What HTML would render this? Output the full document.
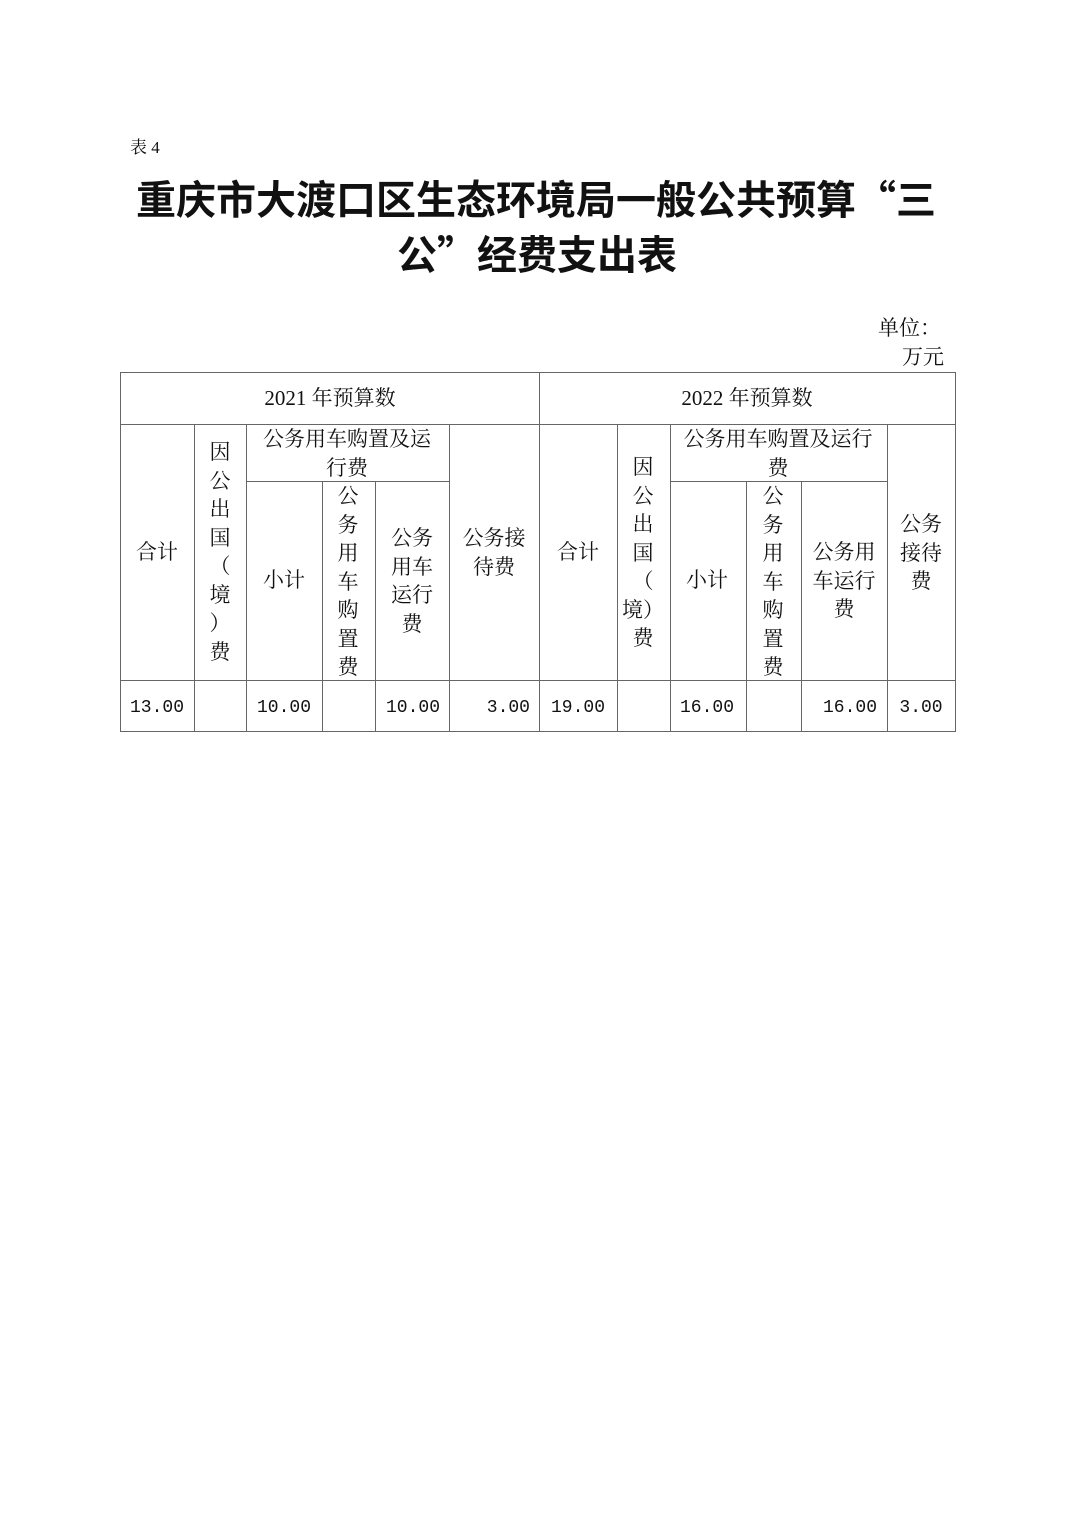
<!DOCTYPE html>
<html><head><meta charset="utf-8"><style>
body{margin:0;background:#fff;}
#p{position:relative;width:1074px;height:1520px;background:#fff;overflow:hidden;font-family:"Liberation Serif","Noto Serif CJK SC",serif;color:#111;}
.h{position:absolute;height:1px;background:#666;}
.v{position:absolute;width:1px;background:#666;}
.t{position:absolute;text-align:center;font-size:21px;line-height:28.5px;white-space:nowrap;}
.n{font-family:"Liberation Mono",monospace;font-size:18px;}
.title{position:absolute;left:0;width:1074px;text-align:center;font-family:"Noto Sans CJK SC",sans-serif;font-weight:bold;font-size:40px;line-height:56px;}
</style></head><body><div id="p">
<div class="t" style="left:130px;top:134px;text-align:left;font-size:17px;">表 4</div>
<div class="title" style="top:169px;left:-1px;">重庆市大渡口区生态环境局一般公共预算“三</div>
<div class="title" style="top:224px;">公”经费支出表</div>
<div class="t" style="left:878px;top:314px;text-align:left;">单位：</div>
<div class="t" style="left:902px;top:343px;text-align:left;">万元</div>

<div class="h" style="left:120px;top:372px;width:836px;"></div>
<div class="h" style="left:120px;top:424px;width:836px;"></div>
<div class="h" style="left:246px;top:481px;width:203px;"></div>
<div class="h" style="left:670px;top:481px;width:217px;"></div>
<div class="h" style="left:120px;top:680px;width:836px;"></div>
<div class="h" style="left:120px;top:731px;width:836px;"></div>
<div class="v" style="left:120px;top:372px;height:360px;"></div>
<div class="v" style="left:539px;top:372px;height:360px;"></div>
<div class="v" style="left:955px;top:372px;height:360px;"></div>
<div class="v" style="left:194px;top:424px;height:308px;"></div>
<div class="v" style="left:246px;top:424px;height:308px;"></div>
<div class="v" style="left:322px;top:481px;height:251px;"></div>
<div class="v" style="left:375px;top:481px;height:251px;"></div>
<div class="v" style="left:449px;top:424px;height:308px;"></div>
<div class="v" style="left:617px;top:424px;height:308px;"></div>
<div class="v" style="left:670px;top:424px;height:308px;"></div>
<div class="v" style="left:746px;top:481px;height:251px;"></div>
<div class="v" style="left:801px;top:481px;height:251px;"></div>
<div class="v" style="left:887px;top:424px;height:308px;"></div>

<div class="t" style="left:230px;width:200px;top:384px;">2021 年预算数</div>
<div class="t" style="left:57px;width:200px;top:538px;">合计</div>
<div class="t" style="left:120px;width:200px;top:438px;">因<br>公<br>出<br>国<br>（<br>境<br>）<br>费</div>
<div class="t" style="left:247px;width:200px;top:425px;">公务用车购置及运<br>行费</div>
<div class="t" style="left:184px;width:200px;top:566px;">小计</div>
<div class="t" style="left:248px;width:200px;top:482px;">公<br>务<br>用<br>车<br>购<br>置<br>费</div>
<div class="t" style="left:312px;width:200px;top:524px;">公务<br>用车<br>运行<br>费</div>
<div class="t" style="left:394px;width:200px;top:524px;">公务接<br>待费</div>
<div class="t n" style="left:57px;width:200px;top:694px;">13.00</div>
<div class="t n" style="left:184px;width:200px;top:694px;">10.00</div>
<div class="t n" style="left:240px;width:200px;top:694px;text-align:right;">10.00</div>
<div class="t n" style="left:330px;width:200px;top:694px;text-align:right;">3.00</div>

<div class="t" style="left:647px;width:200px;top:384px;">2022 年预算数</div>
<div class="t" style="left:478px;width:200px;top:538px;">合计</div>
<div class="t" style="left:543px;width:200px;top:453px;">因<br>公<br>出<br>国<br>（<br>境）<br>费</div>
<div class="t" style="left:678px;width:200px;top:425px;">公务用车购置及运行<br>费</div>
<div class="t" style="left:607px;width:200px;top:566px;">小计</div>
<div class="t" style="left:673px;width:200px;top:482px;">公<br>务<br>用<br>车<br>购<br>置<br>费</div>
<div class="t" style="left:744px;width:200px;top:538px;">公务用<br>车运行<br>费</div>
<div class="t" style="left:821px;width:200px;top:510px;">公务<br>接待<br>费</div>
<div class="t n" style="left:478px;width:200px;top:694px;">19.00</div>
<div class="t n" style="left:607px;width:200px;top:694px;">16.00</div>
<div class="t n" style="left:677px;width:200px;top:694px;text-align:right;">16.00</div>
<div class="t n" style="left:821px;width:200px;top:694px;">3.00</div>
</div></body></html>
